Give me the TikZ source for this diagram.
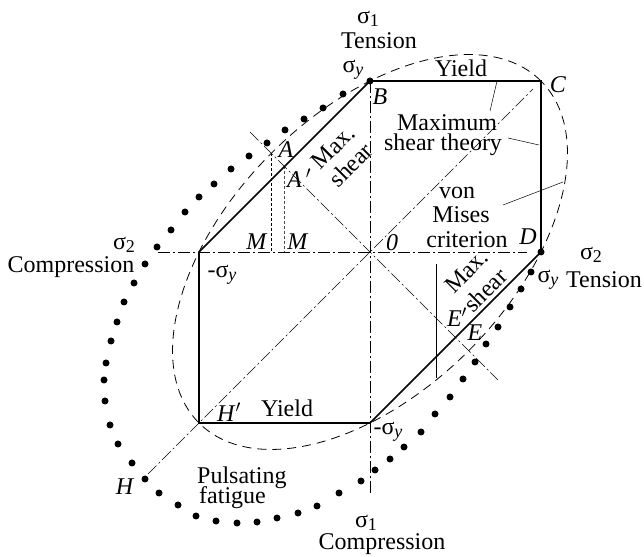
\documentclass[tikz,border=0pt]{standalone}
\usepackage{fontspec}
\setmainfont{Liberation Serif}
\newcommand\sbs[1]{\raisebox{-0.3ex}{\fontsize{18}{18}\selectfont #1}}
\newcommand\sgy{σ\sbs{\textit{y}}}
\newcommand\prm{$'$}
\begin{document}
\begin{tikzpicture}[x=1pt,y=1pt,
  lbl/.style={inner sep=0pt,font=\fontsize{24}{24}\selectfont},
  hex/.style={line width=1.6pt},
  axisline/.style={line width=0.6pt,dash pattern=on 12pt off 3pt on 2pt off 3pt},
  vm/.style={line width=0.8pt,dash pattern=on 9pt off 6pt},
  mline/.style={line width=0.6pt,dash pattern=on 3pt off 2pt},
  lead/.style={line width=0.5pt},
  fdot/.style={fill=black}]
\useasboundingbox (0,0) rectangle (644,556);
% key points
\coordinate (O) at (370,304);
\coordinate (B) at (370,475);
\coordinate (C) at (541,475);
\coordinate (D) at (541,304);
\coordinate (G) at (370,133);
\coordinate (Hp) at (199,133);
\coordinate (L) at (199,304);
% von Mises ellipse
\draw[vm, rotate around={45:(O)}] (O) ellipse [x radius=241.8, y radius=139.6];
% axes
\coordinate (h1) at (158,304); \coordinate (h2) at (527,304);
\coordinate (v2) at (370,63);
\coordinate (d1) at (148,82); \coordinate (d2) at (533,467);
\coordinate (e1) at (250,424); \coordinate (e2) at (498,176);
\draw[axisline] (h1) -- (h2);
\draw[axisline] (B) -- (v2);
\draw[axisline] (d1) -- (d2);
\draw[axisline] (e1) -- (e2);
% M lines
\coordinate (A) at (271,403); \coordinate (Am) at (271,304);
\coordinate (Ap) at (284.5,389.5); \coordinate (Apm) at (284.5,304);
\draw[mline] (A) -- (Am);
\draw[mline,black!70] (Ap) -- (Apm);
\coordinate (Ev1) at (436,292); \coordinate (Ev2) at (436,178);
\draw[lead] (Ev1) -- (Ev2);
% hexagon
\draw[hex] (B) -- (C) -- (D) -- (G) -- (Hp) -- (L) -- cycle;
% leaders
\coordinate (m1) at (497,475); \coordinate (m2) at (490,445);
\coordinate (s1) at (508,418); \coordinate (s2) at (539,411);
\coordinate (c1) at (503,351); \coordinate (c2) at (563,374);
\draw[lead] (m1) -- (m2);
\draw[lead] (s1) -- (s2);
\draw[lead] (c1) -- (c2);
% pulsating fatigue dots
\fill[fdot] (B) circle[radius=3.5];
\fill[fdot] (D) circle[radius=3.5];
\foreach \a/\b in {343/462,323/448,304/437,285/426,267/413,249/400,231/387,214/372,199/359,185/344,171/326,157/309,145/292,134/273,124/254,117/234,111/215,106/193,104/176,105/155,110/131,118/112,132/93,145/77,159/63,178/51,196/40,216/35,237/33,257/34,277/38,298/43,317/50,339/63,361/75,375/86,390/97,404/109,421/124,435/142,450/159,463/177,475/194,486/212,498/229,510/249,521/267,531/284}
  \fill[fdot] (\a,\b) circle[radius=3.5];
% labels
\node[lbl] (s1top) at (368,537) {σ\sbs{1}};
\node[lbl] (tentop) at (379,515) {Tension};
\node[lbl] (syB) at (353,486) {\sgy};
\node[lbl] (lB) at (380,459) {\textit{B}};
\node[lbl] (yt) at (461,488) {Yield};
\node[lbl] (lC) at (558,471) {\textit{C}};
\node[lbl] (mx) at (447,433) {Maximum};
\node[lbl] (st) at (443,411) {shear theory};
\node[lbl] (von) at (457,363) {von};
\node[lbl] (mis) at (461,341) {Mises};
\node[lbl] (cri) at (467,316) {criterion};
\node[lbl] (lD) at (528,319) {\textit{D}};
\node[lbl] (l0) at (392,313) {\textit{0}};
\node[lbl] (syD) at (548,276) {\sgy};
\node[lbl] (s2r) at (591,301) {σ\sbs{2}};
\node[lbl] (tenr) at (604,276) {Tension};
\node[lbl,rotate=45,align=center,font=\fontsize{24}{25}\selectfont] (ms1) at (342,400) {Max.\\shear};
\node[lbl,rotate=45,align=center,font=\fontsize{24}{27}\selectfont] (ms2) at (476,275) {Max.\\shear};
\node[lbl] (lA) at (286,406) {\textit{A}};
\node[lbl] (lAp) at (299,378) {\textit{A}\,\prm};
\node[lbl] (lM1) at (257,314) {\textit{M}};
\node[lbl] (lM2) at (298,314) {\textit{M}};
\node[lbl] (s2l) at (124,311) {σ\sbs{2}};
\node[lbl] (coml) at (71,289) {Compression};
\node[lbl] (msyL) at (222,281) {-\sgy};
\node[lbl] (lHp) at (229,144) {\textit{H}\prm};
\node[lbl] (yb) at (287,148) {Yield};
\node[lbl] (msyB) at (388,124) {-\sgy};
\node[lbl] (lH) at (125,69) {\textit{H}};
\node[lbl,anchor=west] (pul) at (197,78) {Pulsating};
\node[lbl,anchor=west] (fat) at (199,58) {fatigue};
\node[lbl] (s1b) at (366,33) {σ\sbs{1}};
\node[lbl] (comb) at (382,12) {Compression};
\node[lbl] (lEp) at (457,239) {\textit{E}\prm};
\node[lbl] (lE) at (475,223) {\textit{E}};
\end{tikzpicture}
\end{document}
